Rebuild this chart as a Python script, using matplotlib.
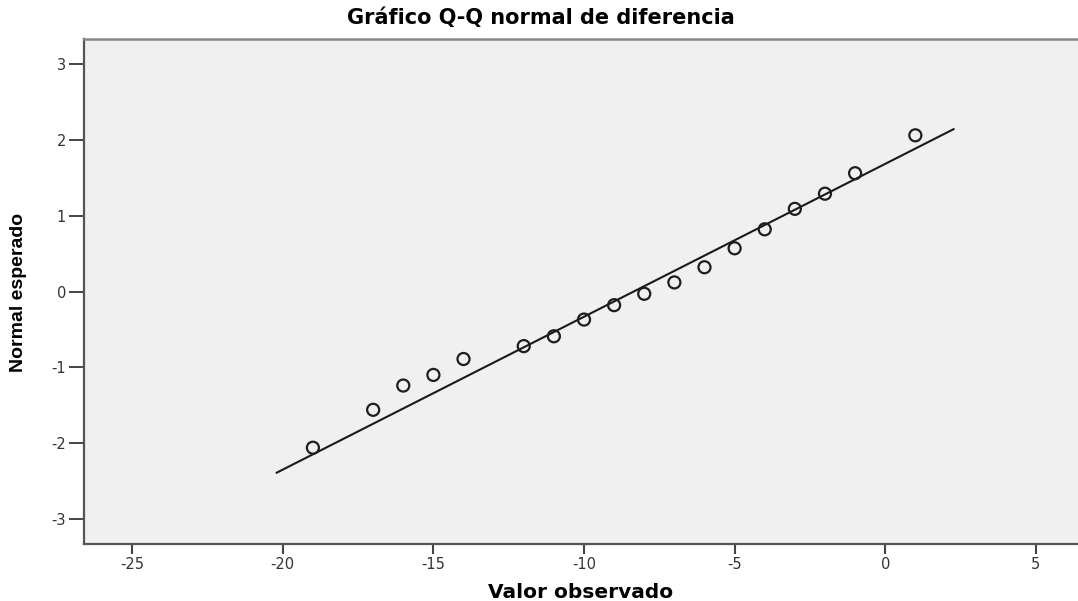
"""
Q-Q normal plot of 'diferencia' (SPSS style), recreated with matplotlib.

Output: out.png (1078x601)
"""

import matplotlib
matplotlib.use("Agg")
import matplotlib.pyplot as plt

# ── Data ──────────────────────────────────────────────────────────────────────
observed = [-19, -17, -16, -15, -14, -12, -11, -10, -9, -8,
            -7, -6, -5, -4, -3, -2, -1, 1]
expected = [-2.06, -1.56, -1.24, -1.10, -0.89, -0.72, -0.59, -0.37, -0.18, -0.03,
            0.12, 0.32, 0.57, 0.82, 1.09, 1.29, 1.56, 2.06]

# reference line: y = (x - mean) / sd, drawn over this x range
line_mean = -8.35
line_sd = 4.96
line_x = [-20.2, 2.27]

x_ticks = [-25, -20, -15, -10, -5, 0, 5]
y_ticks = [-3, -2, -1, 0, 1, 2, 3]

# ── Plot ───────────────────────────────────────────────────────────────────────
fig = plt.figure(figsize=(10.78, 6.01), dpi=100)
ax = fig.add_axes([0.0779, 0.0948, 0.9221, 0.8403])
ax.set_facecolor("#f0f0f0")

line_y = [(x - line_mean) / line_sd for x in line_x]
ax.plot(line_x, line_y, color="#1a1a1a", linewidth=1.5, zorder=2)

ax.scatter(observed, expected, s=75, facecolors="none", edgecolors="#1e1e1e",
           linewidths=1.6, zorder=3)

ax.set_xlim(-26.6, 6.4)
ax.set_ylim(-3.33, 3.33)
ax.set_xticks(x_ticks)
ax.set_yticks(y_ticks)
ax.set_xticklabels([str(t) for t in x_ticks], family="DejaVu Sans", fontsize=10.5, color="#333333")
ax.set_yticklabels([str(t) for t in y_ticks], family="DejaVu Sans", fontsize=10.5, color="#333333")
ax.tick_params(axis="x", direction="out", length=7, width=1.5, color="#444444", pad=2)
ax.tick_params(axis="y", direction="out", length=11, width=1.4, color="#444444", pad=2)

for side in ["left", "bottom"]:
    ax.spines[side].set_color("#555555")
    ax.spines[side].set_linewidth(1.6)
ax.spines["top"].set_color("#888888")
ax.spines["top"].set_linewidth(1.8)
ax.spines["right"].set_visible(False)

fig.text(0.502, 0.97, "Gráfico Q-Q normal de diferencia", ha="center", va="center",
         family="DejaVu Sans", fontweight="bold", fontsize=15)
ax.set_xlabel("Valor observado", family="DejaVu Sans", fontweight="bold",
              fontsize=14.5, labelpad=8)
fig.text(0.017, 0.514, "Normal esperado", rotation=90, ha="center", va="center",
         family=["Liberation Sans Narrow", "Liberation Sans"], fontweight="bold", fontsize=14)

fig.savefig("out.png", dpi=100)
